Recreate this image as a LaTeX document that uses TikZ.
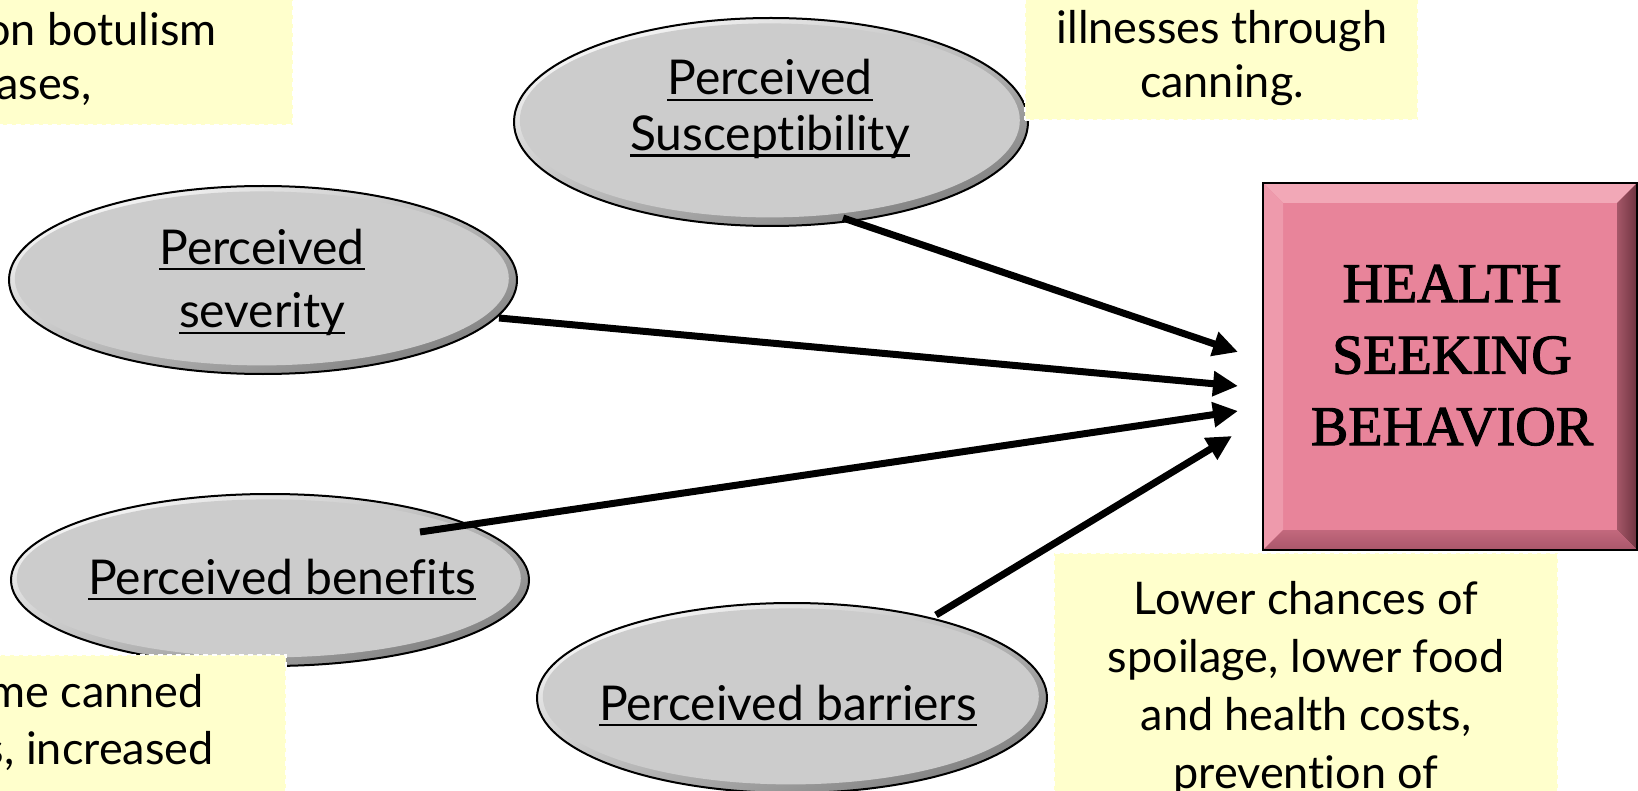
\documentclass[tikz,border=0pt]{standalone}
\usepackage{fontspec}
\setmainfont{Lato}[Ligatures={NoCommon}]
\newfontfamily\hsbfont{Liberation Serif}[FakeBold=2]
\usetikzlibrary{shapes.geometric,arrows.meta,calc}
\definecolor{yfill}{HTML}{FFFFCC}
\definecolor{ellface}{HTML}{CCCCCC}
\definecolor{pinkface}{HTML}{E8849A}
\definecolor{pinktop}{HTML}{F2A8B7}
\definecolor{pinkleft}{HTML}{EE9AAC}
\definecolor{pinkright}{HTML}{6E3340}
\definecolor{pinkbot}{HTML}{A9566A}
\newcommand\myul[1]{\setbox0\hbox{#1}\rlap{\rule[-3.2pt]{\wd0}{1.2pt}}\box0}
\begin{document}
\begin{tikzpicture}[x=0.5pt,y=-0.5pt,
  ell/.style={ellipse, draw=black, line width=1pt, inner sep=0pt,
    top color=gray!5, bottom color=black!50, shading angle=20,
    path picture={\fill[ellface] let \p1=($(path picture bounding box.north east)-(path picture bounding box.center)$) in
      ($(path picture bounding box.center)+(-0.6pt,0.8pt)$) ellipse [x radius={\x1-3.5pt}, y radius={\y1-3.5pt}];}},
  etext/.style={font=\fontsize{24}{28}\selectfont, inner sep=0pt, anchor=base},
  ybox/.style={rectangle, fill=yfill, draw=white, line width=1pt, dash pattern=on 2.5pt off 2pt, inner sep=0pt},
  ytext/.style={font=\fontsize{22.5}{28}\selectfont, inner sep=0pt},
  hsbox/.style={rectangle, fill=pinkface, inner sep=0pt, outer sep=0pt},
  arr/.style={line width=3.5pt, -{Triangle[length=12.5pt,width=12pt]}}
]
\useasboundingbox (0,0) rectangle (1638,791);
\clip (0,0) rectangle (1638,791);

% ellipses
\node[ell, minimum width=257pt, minimum height=104pt] (sus) at (771,122) {};
\node[ell, minimum width=254pt, minimum height=94pt] (sev) at (263,280) {};
\node[ell, minimum width=259pt, minimum height=86pt] (ben) at (270,580) {};
\node[ell, minimum width=255pt, minimum height=95pt] (bar) at (792,698) {};

% yellow note boxes
\node[ybox, minimum width=156.5pt, minimum height=72.5pt] (tlb) at (136.5,52.5) {};
\node[ybox, minimum width=196.5pt, minimum height=70pt] (trb) at (1221.5,50) {};
\node[ybox, minimum width=153pt, minimum height=78pt] (blb) at (133,733) {};
\node[ybox, minimum width=252pt, minimum height=129pt] (brb) at (1306,682) {};

\node[ytext, anchor=base east] (tl1) at (217,46) {on botulism};
\node[ytext, anchor=base east] (tl2) at (92,100) {cases,};
\node[ytext, anchor=base, font=\fontsize{22.5}{27}\selectfont] (trt) at (1222,44)
  {\begin{tabular}[t]{@{}c@{}}illnesses through\\canning.\end{tabular}};
\node[ytext, anchor=base east] (bl1) at (204,707) {me canned};
\node[ytext, anchor=base east] (bl2) at (214,764) {s, increased};
\node[ytext, anchor=base, font=\fontsize{22.5}{29}\selectfont] (brt) at (1306,614)
  {\begin{tabular}[t]{@{}c@{}}Lower chances of\\spoilage, lower food\\and health costs,\\prevention of\end{tabular}};

% ellipse labels
\node[etext, font=\fontsize{24}{27.75}\selectfont] (sust) at (770,95)
  {\begin{tabular}[t]{@{}c@{}}\myul{Perceived}\\\myul{Susceptibility}\end{tabular}};
\node[etext, font=\fontsize{24}{32}\selectfont] (sevt) at (262,264)
  {\begin{tabular}[t]{@{}c@{}}\myul{Perceived}\\\myul{severity}\end{tabular}};
\node[etext] (bent) at (282,594) {\myul{Perceived benefits}};
\node[etext] (bart) at (788,720) {\myul{Perceived barriers}};

% health seeking behavior box
\node[hsbox, minimum width=187pt, minimum height=183.5pt] (hsb) at (1450,366.5) {};
\fill[pinktop] (hsb.north west) -- (hsb.north east) -- ($(hsb.north east)+(-20,20)$) -- ($(hsb.north west)+(20,20)$) -- cycle;
\fill[pinkleft] (hsb.north west) -- ($(hsb.north west)+(20,20)$) -- ($(hsb.south west)+(20,-20)$) -- (hsb.south west) -- cycle;
\shade[left color=pinkface!45!pinkright, right color=pinkright] (hsb.north east) -- (hsb.south east) -- ($(hsb.south east)+(-20,-20)$) -- ($(hsb.north east)+(-20,20)$) -- cycle;
\shade[top color=pinkbot!60!pinkface, bottom color=pinkbot] (hsb.south west) -- ($(hsb.south west)+(20,-20)$) -- ($(hsb.south east)+(-20,-20)$) -- (hsb.south east) -- cycle;
\draw[line width=0.8pt] (hsb.north west) rectangle (hsb.south east);
\node[font=\hsbfont\fontsize{28}{35.75}\selectfont, inner sep=0pt, anchor=base] (hsbt) at (1452,302)
  {\begin{tabular}[t]{@{}c@{}}HEALTH\\SEEKING\\BEHAVIOR\end{tabular}};

% arrows
\coordinate (t1) at ($(hsb.west)+(-25,-14.5)$);
\coordinate (t2) at ($(hsb.west)+(-25,19.5)$);
\coordinate (t3) at ($(hsb.west)+(-25,44.5)$);
\coordinate (t4) at ($(hsb.west)+(-31,69.5)$);
\draw[arr] ($(sus.center)+(72,96)$) -- (t1);
\draw[arr] ($(sev.center)+(236,38)$) -- (t2);
\draw[arr] ($(ben.center)+(150,-48)$) -- (t3);
\draw[arr] ($(bar.center)+(144,-83)$) -- (t4);
\end{tikzpicture}
\end{document}
